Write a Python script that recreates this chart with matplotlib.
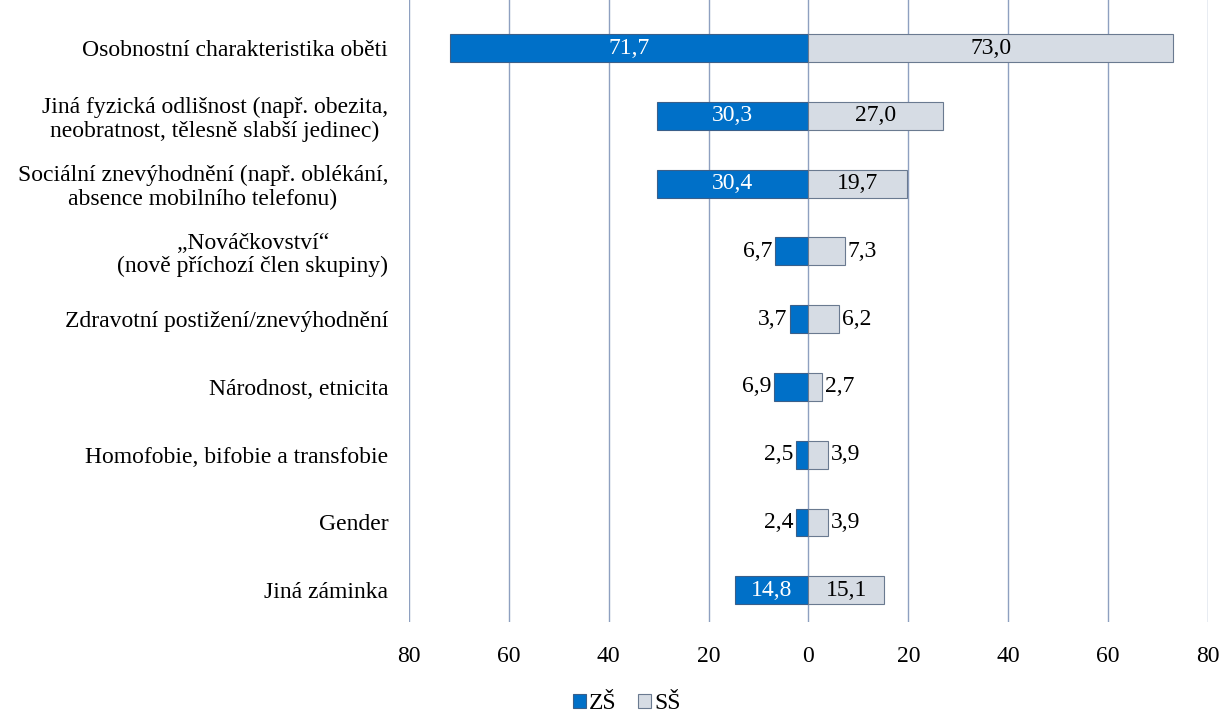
import numpy as np
import matplotlib.pyplot as plt

plt.rcParams['font.family'] = ['Liberation Serif', 'DejaVu Serif']

kategorie = ['Osobnostní charakteristika oběti',
             'Jiná fyzická odlišnost (např. obezita,\nneobratnost, tělesně slabší jedinec)',
             'Sociální znevýhodnění (např. oblékání,\nabsence mobilního telefonu)',
             '„Nováčkovství“\n(nově příchozí člen skupiny)',
             'Zdravotní postižení/znevýhodnění',
             'Národnost, etnicita',
             'Homofobie, bifobie a transfobie',
             'Gender',
             'Jiná záminka']
zs = [71.7, 30.3, 30.4, 6.7, 3.7, 6.9, 2.5, 2.4, 14.8]
ss = [73.0, 27.0, 19.7, 7.3, 6.2, 2.7, 3.9, 3.9, 15.1]
xticky = [-80, -60, -40, -20, 0, 20, 40, 60, 80]

modra = '#0070C8'
seda = '#D6DCE4'
fs = 17

fig = plt.figure(figsize=(12.22, 7.13), dpi=100)
ax = fig.add_axes([0.3347, 0.1276, 0.6538, 0.8724])

y = np.arange(len(kategorie))
ax.barh(y, [-v for v in zs], height=0.41, color=modra, edgecolor='#3A5F8A', linewidth=0.8, label='ZŠ', zorder=3)
ax.barh(y, ss, height=0.41, color=seda, edgecolor='#6A7A90', linewidth=0.8, label='SŠ', zorder=3)

def fmt(v):
    return ('%.1f' % v).replace('.', ',')

for i in range(len(kategorie)):
    if zs[i] > 10:
        ax.text(-zs[i] / 2, i, fmt(zs[i]), ha='center', va='center', color='white', fontsize=fs, zorder=4)
    else:
        ax.text(-zs[i] - 0.6, i, fmt(zs[i]), ha='right', va='center', color='black', fontsize=fs, zorder=4)
    if ss[i] > 10:
        ax.text(ss[i] / 2, i, fmt(ss[i]), ha='center', va='center', color='black', fontsize=fs, zorder=4)
    else:
        ax.text(ss[i] + 0.6, i, fmt(ss[i]), ha='left', va='center', color='black', fontsize=fs, zorder=4)

ax.set_xlim(-80, 80)
ax.set_ylim(8.47, -0.71)
ax.set_xticks(xticky)
ax.set_xticklabels([str(abs(t)) for t in xticky], fontsize=fs)
ax.set_yticks(y)
ax.set_yticklabels(kategorie, fontsize=fs, ha='right', multialignment='center', linespacing=1.15)
ax.tick_params(axis='both', length=0)
ax.tick_params(axis='y', pad=15)
ax.tick_params(axis='x', pad=17)
ax.grid(axis='x', color='#8EA0C0', linewidth=1, zorder=0)
for s in ax.spines.values():
    s.set_visible(False)

fig.legend(loc='lower center', bbox_to_anchor=(0.513, -0.008), ncol=2, frameon=False,
           fontsize=fs, handlelength=0.55, handleheight=0.55, handletextpad=0.15, columnspacing=0.9,
           borderaxespad=0.0, borderpad=0.2)

fig.savefig('out.png', dpi=100)
